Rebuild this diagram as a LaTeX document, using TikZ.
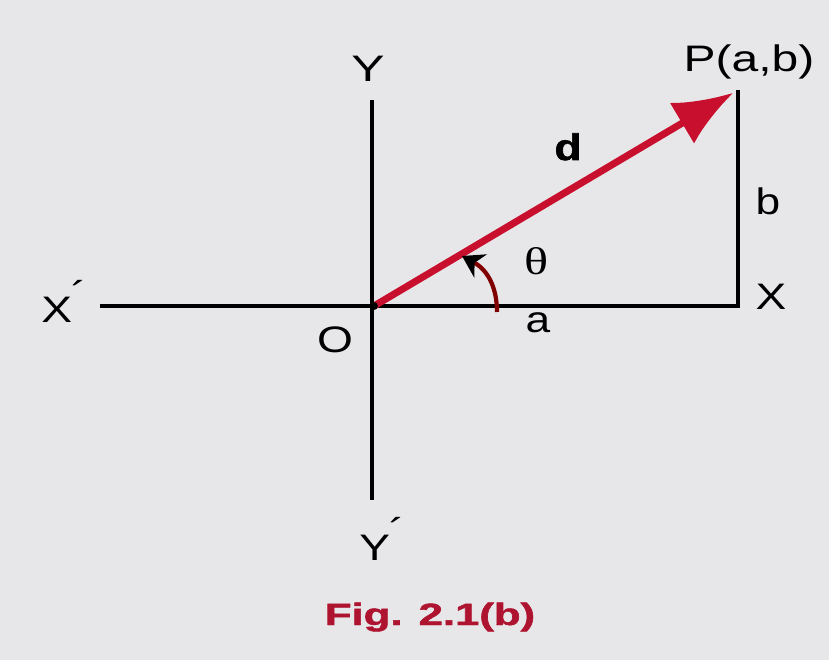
\documentclass[tikz,border=0pt]{standalone}
\usepackage{graphicx}
\usepackage{fontspec}
\setmainfont{Liberation Sans}
\newfontfamily\thetafont{Liberation Serif}
\newfontfamily\heavyfont[BoldFeatures={FakeBold=1.5}]{Liberation Sans}
\usetikzlibrary{arrows.meta}
\definecolor{paper}{HTML}{E7E7EA}
\definecolor{vecred}{HTML}{C8102E}
\definecolor{figred}{HTML}{AE1430}
\newcommand{\widetxt}[2][1.25]{\scalebox{#1}[1]{#2}}
\newcommand{\primed}[1]{#1\kern-0.02em\raisebox{0.42em}{´}}

\begin{document}
\begin{tikzpicture}[x=0.02cm, y=0.02cm,
	axis/.style={line width=2.8pt, black},
	lbl/.style={font=\fontsize{21}{24}\selectfont, inner sep=0pt, anchor=base}]
	\fill[paper] (0,0) rectangle (829,660);
	\useasboundingbox (0,0) rectangle (829,660);
	% axes and the point
	\coordinate (O) at (374,354);
	\coordinate (Xw) at (100,354);
	\coordinate (Xe) at (740,354);
	\coordinate (Yn) at (372,560);
	\coordinate (Ys) at (372,160);
	\coordinate (P) at (738,570);
	\coordinate (Q) at (738,354);
	\coordinate (arcs) at (497,348);
	\coordinate (arce) at (462,404);
	\draw[axis] (Xw) -- (Xe);
	\draw[axis] (Yn) -- (Ys);
	\draw[axis] (P) -- (Q);
	\draw[line width=4pt, vecred, shorten >=3pt, -{Latex[length=34pt, width=27pt]}] (O) -- (P);
	\fill (O) circle (4);
	\draw[line width=2.4pt, red!50!black, -{Stealth[black, length=12pt, width=15pt]}]
		(arcs) .. controls (497,372) and (488,390) .. (arce);
	% labels
	\node[lbl] (ylbl) at (368,578) {\widetxt[1.35]{Y}};
	\node[lbl] (ymlbl) at (382,100) {\widetxt{\primed{Y}}};
	\node[lbl] (xlbl) at (771,350) {\widetxt{X}};
	\node[lbl] (xmlbl) at (64,337) {\widetxt{\primed{X}}};
	\node[lbl] (olbl) at (335,307) {\widetxt{O}};
	\node[lbl] (plbl) at (749,588) {\widetxt[1.3]{P(a,b)}};
	\node[lbl, font=\fontsize{21}{24}\selectfont\heavyfont\bfseries] (dlbl) at (568,500) {\widetxt[1.2]{d}};
	\node[lbl] (blbl) at (768,445) {\widetxt[1.2]{b}};
	\node[lbl] (albl) at (538,327) {\widetxt[1.2]{a}};
	\node[lbl, font=\fontsize{22}{24}\selectfont\thetafont] (tlbl) at (537,385) {\widetxt[1.3]{θ}};
	\node[lbl, figred, font=\fontsize{17.5}{20}\selectfont\heavyfont\bfseries] (cap) at (430,35) {\widetxt[1.42]{Fig. 2.1(b)}};
\end{tikzpicture}
\end{document}
